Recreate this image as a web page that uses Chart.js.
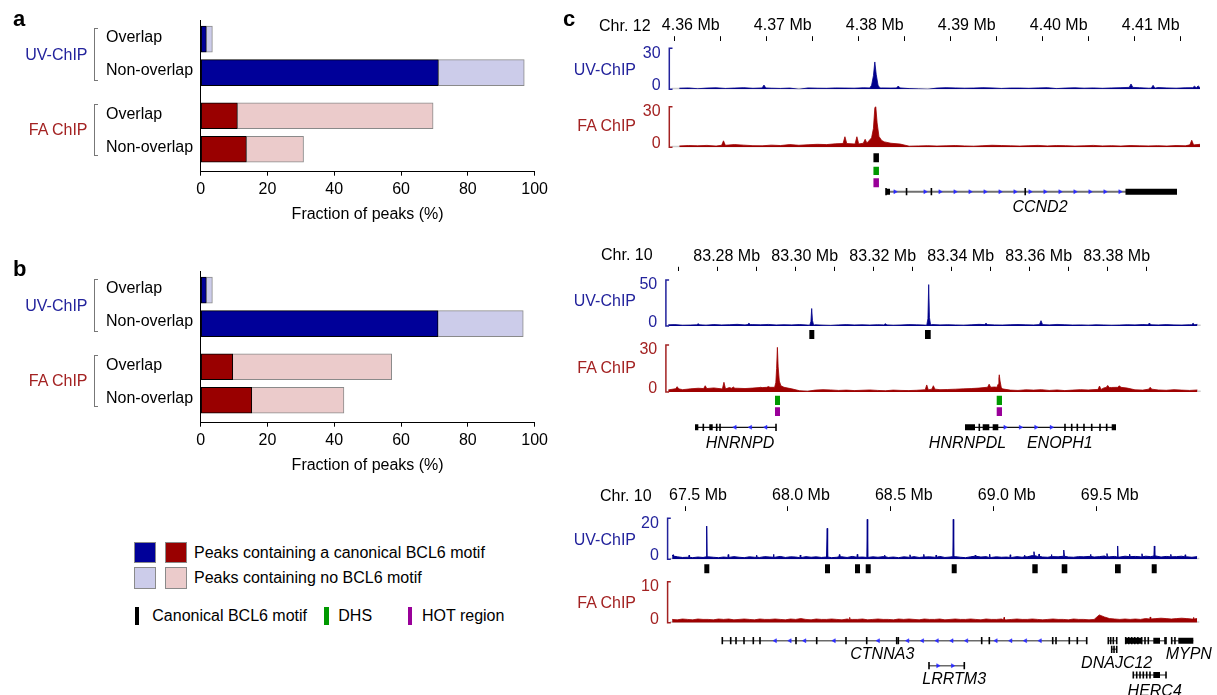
<!DOCTYPE html>
<html><head><meta charset="utf-8">
<script src="https://cdn.jsdelivr.net/npm/chart.js@4.4.1/dist/chart.umd.min.js"></script>
<style>
html,body{margin:0;padding:0;background:#fff;}
body{width:1217px;height:695px;position:relative;overflow:hidden;font-family:'Liberation Sans',Arial,Helvetica,sans-serif;}
canvas{position:absolute;}
.t{position:absolute;line-height:0;white-space:nowrap;font-size:16px;color:#000;}
.box{position:absolute;box-sizing:border-box;}
</style></head><body>
<script>
// ---------------- DATA ----------------
// Panels a / b : fraction of peaks (%)
const barRows = ['Overlap', 'Non-overlap', 'Overlap', 'Non-overlap'];
const motifA   = [1.7, 71.2, 11.0, 13.7];
const noMotifA = [1.8, 25.7, 58.6, 17.1];
const motifB   = [1.7, 71.1, 9.6, 15.3];
const noMotifB = [1.8, 25.5, 47.6, 27.6];
const barTicks = [0, 20, 40, 60, 80, 100];

// Panel c, locus 1 (Chr. 12)
const l1Ticks = [4.355, 4.36, 4.365, 4.37, 4.375, 4.38, 4.385, 4.39, 4.395, 4.40, 4.405, 4.41];
const l1TickLabels = ['', '4.36 Mb', '', '4.37 Mb', '', '4.38 Mb', '', '4.39 Mb', '', '4.40 Mb', '', '4.41 Mb'];
const l1BinStart = 4.355, l1Bin = 0.001;
const uv1Base = [0.8,1.0,0.4,0.9,1.1,0.6,0.9,1.2,0.7,1.0, 0.8,0.6,0.9,0,1.0,0.8,0.7,1.0,0.9,0.8,
  1.1,1.3,1.0,0.9,1.0,0.5,0.3,0,0.9,1.2, 1.0,0.8,0.9,1.2,1.0,0.6,0.9,0.9,0.7,1.0,
  1.2,0.5,0.9,1.1,0.8,1.0,0.7,1.0,1.2,1.4, 1.2,0.8,1.3,1.0,0.8,1.1,1.2,1.3];
const uv1Spikes = [[4.3647,3.1],[4.3793,2.4],[4.4046,3.9],[4.4070,2.9],[4.4115,2.2],[4.4119,2.5]];
const uv1Peak = [[4.3762,1],[4.3764,3],[4.3766,10],[4.37675,20],[4.3769,11],[4.3771,3],[4.3773,1]];
const fa1Base = [1.0,1.3,1.1,1.4,0.9, 1.5, 2.0,1.6,1.2,1.1,1.6,1.3,2.0,1.5,1.9,2.2,2.0,2.6, 2.8,2.5,3.0, 3.5, 3.8,3.0,2.4,
  0.8,1.0,1.2,0.9,1.1,1.3,1.0,0.8,1.2,1.5,1.3,1.1,0.9,1.2,1.4,1.0,1.3,1.2,0.9,1.1,1.4,1.0,1.2,0.9,1.3,1.1,1.0,1.2,0.9,1.3,1.1,
  1.8,2.5];
const fa1Spikes = [[4.3603,4.8],[4.3735,7.8],[4.3748,7.8],[4.3757,5.9],[4.4112,5.2]];
const fa1Peak = [[4.3760,4],[4.3764,7],[4.3766,14],[4.37675,29],[4.37685,30.5],[4.3770,18],[4.3772,8],[4.3775,5],[4.3778,4]];
const l1Motifs = [[4.3766, 4.3772]];
const l1DHS = [[4.3766, 4.3772]];
const l1HOT = [[4.3766, 4.3772]];
const l1Genes = [
  {name:'CCND2', start:4.37797, end:4.4096, strand:1, ticks:[4.37797,4.3802,4.3829,4.3931], blocks:[[4.37797,4.3784],[4.4040,4.4096]]}
];

// Panel c, locus 2 (Chr. 10)
const l2Ticks = [83.26, 83.27, 83.28, 83.29, 83.30, 83.31, 83.32, 83.33, 83.34, 83.35, 83.36, 83.37, 83.38];
const l2TickLabels = ['', '', '83.28 Mb', '', '83.30 Mb', '', '83.32 Mb', '', '83.34 Mb', '', '83.36 Mb', '', '83.38 Mb'];
const l2BinStart = 83.256, l2Bin = 0.002;
const uv2Base = [1.2,1.5,0.8,1.0,1.3,0.9,1.6,1.1,1.4,1.8, 1.2,1.5,1.3,1.7,1.1,1.4,1.2,1.6,1.0,1.3,
  0.9,0.6,1.2,1.5,1.1,1.3,1.0,1.4,1.2,0.8, 1.1,1.5,1.3,1.0,1.6,1.2,1.4,1.1,0.9,1.3,
  1.8,1.5,1.2,1.0,1.4,1.6,1.3,1.1,1.5,1.2, 1.7,1.4,1.0,1.2,0.9,1.3,1.1,0.8,1.0,1.4,
  1.2,1.6,1.3,1.1,1.5,1.2,1.0,1.4,1.8];
const uv2Spikes = [[83.2650,2.5],[83.2780,3.0],[83.3130,2.5],[83.3388,2.9],[83.3529,5.8],[83.3807,3.2],[83.3919,3.0]];
const uv2PeakA = [[83.2936,0.8],[83.2939,5],[83.2941,19],[83.2943,6],[83.2946,0.8]];
const uv2PeakB = [[83.3236,0.8],[83.3239,8],[83.3241,45],[83.3243,9],[83.3246,1]];
const fa2Base = [1.2,2.0, 1.5,2.0,2.4,2.2,2.6,2.0,2.8,2.4,2.2, 2.5,2.8,3.0,3.4, 3.0,2.0,
  0.8,0.5,1.2,1.5,1.3,1.0,1.2,0.9,1.1,1.3,1.0,0.8,1.2,1.0,0.9,1.1,1.4,
  1.8,1.5,1.6,1.8,2.0,2.2,2.5, 3.0,3.2,2.0,
  1.2,1.0,1.4,1.2,1.5,1.0,1.3,0.9,1.2,1.5,1.3,1.6,
  2.6,2.9,3.0,2.5, 1.4,1.2,1.8,1.3,1.1,1.5,1.2,1.0,1.3];
const fa2Spikes = [[83.2596,3.4],[83.2668,4.0],[83.2716,6.2],[83.2740,3.2],[83.2810,3.0],[83.2830,3.5],[83.3236,4.5],
  [83.3253,4.0],[83.3396,5.0],[83.3679,3.8],[83.3700,4.2],[83.3730,4.0],[83.3809,3.0]];
const fa2PeakA = [[83.2846,3],[83.2849,6],[83.2851,15],[83.2853,28.5],[83.2855,16],[83.2858,7],[83.2862,4]];
const fa2PeakB = [[83.3416,3],[83.3419,5],[83.3421,9],[83.3422,11],[83.3424,7],[83.3427,3]];
const l2Motifs = [[83.29349,83.29477],[83.32315,83.32462]];
const l2DHS = [[83.28469,83.28597],[83.34154,83.34290]];
const l2HOT = [[83.28469,83.28597],[83.34154,83.34290]];
const l2Genes = [
  {name:'HNRNPD', start:83.26418, end:83.28495, strand:-1, ticks:[83.26631,83.26974,83.27059,83.28495], blocks:[[83.26418,83.26503],[83.26785,83.26872]]},
  {name:'HNRNPDL', start:83.33341, end:83.37213, strand:1, ticks:[83.33708,83.35905,83.36077,83.36221,83.36392,83.36590,83.36803,83.36974], blocks:[[83.33341,83.33597],[83.33795,83.33964],[83.34051,83.34195],[83.37103,83.37213]]}
];

// Panel c, locus 3 (Chr. 10)
const l3Ticks = [67.5, 68.0, 68.5, 69.0, 69.5];
const l3TickLabels = ['67.5 Mb', '68.0 Mb', '68.5 Mb', '69.0 Mb', '69.5 Mb'];
const l3BinStart = 67.425, l3Bin = 0.025;
const uv3Base = [1.6,1.2,0.9,1.0,0.8,1.1,0.9,1.2,1.0,0.8, 1.1,0.9,1.3,1.0,0.8,1.2,1.0,0.9,1.3,1.1,
  1.0,1.4,0.9,1.2,1.1,0.8,1.3,1.0,1.2,0.9, 1.1,0.8,1.0,1.2,0.9,1.4,1.0,1.1,0.9,1.2,
  1.0,1.3,0.9,1.1,0.8,1.2,1.0,1.3,0.9,1.1, 1.2,1.0,1.4,0.9,1.1,1.3,1.0,0.8,1.2,1.5,
  1.1,1.3,0.9,1.2,1.0,1.1,0.9,1.3,1.0,1.2, 1.8,1.4,1.1,1.0,1.3,1.2,1.5,1.1,1.0,1.3,
  1.2,1.4,1.1,1.3,1.6,1.2,1.4,1.1,1.5,1.3, 1.4,1.2,1.5,1.3,1.6,1.1,1.4,1.2,1.3,1.5, 1.2,1.0,1.3];
const uv3Spikes = [[67.6054,16.2],[68.1909,15.1],[68.3370,2.4],[68.3855,19.5],[68.8033,19.5],[69.1953,3.7],[69.3410,4.5],
  [69.6018,6.5],[69.7800,6.5],
  [67.4420,2.2],[67.5200,2.0],[67.7100,2.3],[67.8480,2.0],[67.9300,2.4],[68.0600,2.1],[68.2500,2.3],[68.4700,2.0],
  [68.5930,2.2],[68.6600,2.4],[68.7200,2.1],[68.9100,2.0],[68.9800,2.5],[69.0800,2.2],[69.1500,2.0],[69.2200,2.6],
  [69.2800,2.3],[69.4700,2.4],[69.5500,2.8],[69.6600,2.5],[69.7200,2.7],[69.8600,2.4],[69.9300,2.2]];
const fa3Base = [0.8,0.7,0.9,0.8,0.7,0.9,0.8,0.8,0.7,0.9, 0.8,0.9,0.7,0.8,0.9,0.8,0.7,0.9,0.8,0.8,
  0.9,0.8,0.7,0.9,0.8,1.0,0.8,0.7,0.9,0.8, 0.8,0.9,0.8,0.7,0.9,0.8,0.8,0.9,0.7,0.8,
  0.9,0.8,0.8,0.7,0.9,0.8,0.9,0.8,0.7,0.9, 0.8,0.8,0.9,0.7,0.8,0.9,0.8,0.8,0.9,0.8,
  0.7,0.9,0.8,0.8,0.9,0.7,0.8,0.9,0.8,0.8, 0.9,0.8,0.7,0.8,0.9,0.8,0.8,0.7,0.9,0.8,
  0.8,0.7,0.8,1.9,1.4,1.0,0.9,0.8,0.9,0.8, 0.9,0.8,1.0,0.9,1.0,1.1,1.0,0.9,1.0,1.1, 1.0,0.9,1.0];
const fa3Spikes = [[68.3000,1.3],[69.0500,1.3],[69.7600,1.4],[69.9700,1.3]];
const l3Motifs = [[67.5938,67.6181],[68.1801,68.2044],[68.3258,68.3501],[68.3778,68.4021],[68.7956,68.8199],
  [69.1872,69.2134],[69.3300,69.3572],[69.5889,69.6166],[69.7672,69.7915]];
const l3Genes = [
  {name:'CTNNA3', start:67.6812, end:69.4514, strand:-1, ticks:[67.6812,67.7220,67.7478,67.7866,67.8318,67.8643,68.0392,68.1398,
    68.2821,68.3827,68.5284,68.5362,68.9413,68.9783,69.2863,69.3023,69.3669,69.4058,69.4514], blocks:[]},
  {name:'LRRTM3', start:68.6853, end:68.8568, strand:1, ticks:[68.6853,68.8568], blocks:[]},
  {name:'DNAJC12a', start:69.5564, end:69.5972, strand:0, ticks:[69.5564,69.5680,69.5807,69.5972], blocks:[]},
  {name:'DNAJC12b', start:69.5729, end:69.5972, strand:0, ticks:[69.5729,69.5841,69.5972], blocks:[]},
  {name:'HERC4a', start:69.6409, end:69.8367, strand:0, ticks:[69.6409,69.6555,69.6701,69.6847,69.7000,69.7186,69.7346,69.7507,69.8318,69.8367], blocks:[[69.6409,69.7186],[69.7750,69.8075]]},
  {name:'MYPN', start:69.8643, end:69.9693, strand:0, ticks:[69.8643,69.8800], blocks:[[69.8964,69.9693]]},
  {name:'HERC4b', start:69.6778, end:69.8367, strand:0, ticks:[69.6778,69.6943,69.7104,69.7264,69.7429,69.7589,69.8367], blocks:[[69.7750,69.8075]]}
];

// ---------------- LAYOUT / STYLE ----------------
const UVC = '#23239c', FAC = '#a32222', UVFILL = '#00008c', FAFILL = '#9e0000';
const ROWPOS = [0, 1, 2.29, 3.29];   // vertical slot of each bar row (layout)
const L1 = {left:671.7, right:1200, min:4.35467, max:4.4121, tickBottom:40.7, labelOffset:-30, chev:0.00163, hw:0.0002,
  uv:{top:48.3,bottom:89.3,max:30}, fa:{top:106.7,bottom:147.3,max:30}, ann:{top:150,bottom:200},
  boxRows:{motif:[157.8,9], dhs:[170.85,8.3], hot:[182.8,9]}, geneRows:{CCND2:191.7}, lineColor:'#707070', lineW:2};
const L2 = {left:668.3, right:1200.7, min:83.25733, max:83.39385, tickBottom:271.3, labelOffset:-30, chev:0.00395, hw:0.0004,
  uv:{top:280,bottom:326,max:50}, fa:{top:345,bottom:392,max:30}, ann:{top:328,bottom:436},
  boxRows:{motif:[334.5,9], dhs:[400.35,9.3], hot:[411.65,8.7]}, geneRows:{HNRNPD:427.3, HNRNPDL:427.3}, lineColor:'#111', lineW:1.3};
const L3 = {left:670, right:1199.3, min:67.4271, max:69.9984, tickBottom:510.7, labelOffset:13, chev:0.0715, hw:0.002,
  uv:{top:518.3,bottom:559.3,max:20}, fa:{top:581.7,bottom:622.7,max:10}, ann:{top:562,bottom:682},
  boxRows:{motif:[568.8,9]}, geneRows:{CTNNA3:640.7, LRRTM3:665.7, DNAJC12a:640.7, DNAJC12b:649.3, HERC4a:640.7, MYPN:640.7, HERC4b:675},
  lineColor:'#6a6a6a', lineW:1.6};

Chart.defaults.font.family = "'Liberation Sans', Arial, Helvetica, sans-serif";
Chart.defaults.font.size = 16;
Chart.defaults.color = '#000';

function makeCanvas(x, y, w, h) {
  const c = document.createElement('canvas');
  c.width = w; c.height = h;
  c.style.left = x + 'px'; c.style.top = y + 'px';
  c.style.width = w + 'px'; c.style.height = h + 'px';
  document.body.appendChild(c);
  return c;
}
function txt(s, x, y, o = {}) {
  const d = document.createElement('div');
  d.className = 't'; d.textContent = s;
  d.style.left = x + 'px'; d.style.top = y + 'px';
  d.style.fontSize = (o.size || 16) + 'px';
  d.style.color = o.color || '#000';
  if (o.bold) d.style.fontWeight = 'bold';
  if (o.italic) d.style.fontStyle = 'italic';
  if (o.align === 'center') d.style.transform = 'translateX(-50%)';
  else if (o.align === 'right') d.style.transform = 'translateX(-100%)';
  document.body.appendChild(d);
}
function rect(x, y, w, h, bg, border) {
  const d = document.createElement('div');
  d.className = 'box';
  d.style.left = x + 'px'; d.style.top = y + 'px'; d.style.width = w + 'px'; d.style.height = h + 'px';
  d.style.background = bg;
  if (border) d.style.border = border;
  document.body.appendChild(d);
}
function bracket(x, y1, y2) {
  const d = document.createElement('div');
  d.className = 'box';
  d.style.left = x + 'px'; d.style.top = y1 + 'px'; d.style.width = '4px'; d.style.height = (y2 - y1) + 'px';
  d.style.border = '1.5px solid #777'; d.style.borderRight = 'none';
  document.body.appendChild(d);
}
const base = {responsive:false, animation:false, devicePixelRatio:1, events:[],
  plugins:{legend:{display:false}, tooltip:{enabled:false}}};

// ---------------- PANELS a / b ----------------
function barPanel(top, motif, noMotif) {
  const cv = makeCanvas(0, top, 560, 235);
  const dark = ['#000099', '#000099', '#990000', '#990000'];
  const light = ['#ccccea', '#ccccea', '#ebcbcb', '#ebcbcb'];
  new Chart(cv, {
    type: 'bar',
    data: {datasets: [
      {data: motif.map((v, i) => ({x: v, y: -ROWPOS[i]})), backgroundColor: dark, borderColor: '#000',
       borderWidth: 1, borderSkipped: false, barThickness: 26},
      {data: noMotif.map((v, i) => ({x: v, y: -ROWPOS[i]})), backgroundColor: light, borderColor: '#8a8a8a',
       borderWidth: 1, borderSkipped: 'start', barThickness: 26}
    ]},
    options: Object.assign({}, base, {
      indexAxis: 'y',
      layout: {padding: {left: 106, top: 20, right: 25.4, bottom: 6.4}, autoPadding: false},
      scales: {
        x: {type: 'linear', min: 0, max: 100, stacked: true, bounds: 'data', offset: false, grace: 0,
          afterBuildTicks: s => { s.ticks = barTicks.map(v => ({value: v})); },
          grid: {display: true, drawOnChartArea: false, drawTicks: true, tickLength: 4, color: '#000', lineWidth: 1},
          border: {display: true, color: '#000', width: 1},
          ticks: {padding: 4, color: '#000', font: {size: 16}, maxRotation: 0, autoSkip: false},
          title: {display: true, text: 'Fraction of peaks (%)', color: '#000', font: {size: 16}, padding: {top: 2.5, bottom: 4}}},
        y: {type: 'linear', min: -3.96, max: 0.57, stacked: true, bounds: 'data', offset: false, grace: 0,
          afterBuildTicks: s => { s.ticks = ROWPOS.map(v => ({value: -v})); },
          afterFit: s => { s.width = 94.7; },
          grid: {display: false, offset: false}, border: {display: true, color: '#000', width: 1},
          ticks: {crossAlign: 'far', color: '#000', font: {size: 16}, labelOffset: -1.5, autoSkip: false,
            callback: (v, i) => barRows[i]}}
      }
    })
  });
}
barPanel(0, motifA, noMotifA);
barPanel(251, motifB, noMotifB);

txt('a', 13, 18.8, {size: 22, bold: true});
txt('b', 13, 268.8, {size: 22, bold: true});
[[0, 'a'], [251, 'b']].forEach(([dy]) => {
  txt('UV-ChIP', 87.5, 55 + dy, {align: 'right', color: UVC});
  txt('FA ChIP', 87.5, 130 + dy, {align: 'right', color: FAC});
  bracket(93.6, 28.3 + dy, 81 + dy);
  bracket(93.6, 104 + dy, 155.7 + dy);
});

// legend
rect(134, 541.7, 22, 21.6, '#000099', '1px solid #8a8a8a');
rect(165, 541.7, 22, 21.6, '#990000', '1px solid #8a8a8a');
rect(134, 567.3, 22, 21.6, '#ccccea', '1px solid #8a8a8a');
rect(165, 567.3, 22, 21.6, '#ebcbcb', '1px solid #8a8a8a');
txt('Peaks containing a canonical BCL6 motif', 194, 552.7);
txt('Peaks containing no BCL6 motif', 194, 578.3);
rect(135, 607.3, 3.6, 17.7, '#000');
txt('Canonical BCL6 motif', 152.3, 616);
rect(324, 607.3, 4.5, 17.7, '#009900');
txt('DHS', 338.3, 616);
rect(407.5, 607.3, 4.5, 17.7, '#990099');
txt('HOT region', 422, 616);

// ---------------- PANEL c ----------------
const trackFrame = {
  id: 'trackFrame',
  beforeDatasetsDraw(chart, args, opts) {
    const {ctx, chartArea: a} = chart;
    ctx.save(); ctx.strokeStyle = '#cdcdcd'; ctx.lineWidth = 1.5;
    ctx.beginPath(); ctx.moveTo(a.left, a.bottom - 0.75); ctx.lineTo(a.right, a.bottom - 0.75); ctx.stroke();
    ctx.restore();
  },
  afterDraw(chart, args, opts) {
    const {ctx, chartArea: a} = chart;
    const ys = chart.scales.y;
    const bx = a.left - 2.4;
    ctx.save();
    ctx.strokeStyle = opts.color; ctx.lineWidth = 1.5;
    ctx.beginPath();
    ctx.moveTo(bx + 3.2, ys.getPixelForValue(ys.max)); ctx.lineTo(bx, ys.getPixelForValue(ys.max));
    ctx.lineTo(bx, ys.getPixelForValue(0)); ctx.lineTo(bx + 3.2, ys.getPixelForValue(0));
    ctx.stroke();
    ctx.fillStyle = opts.color; ctx.font = "16px 'Liberation Sans', Arial, sans-serif";
    ctx.textAlign = 'right'; ctx.textBaseline = 'middle';
    ctx.fillText(String(ys.max), bx - 8.7, ys.getPixelForValue(ys.max) + 5);
    ctx.fillText('0', bx - 8.7, ys.getPixelForValue(0) - 3.5);
    ctx.restore();
  }
};

function buildTrack(start, bin, baseVals, spikes, hw, peaks) {
  const pts = [], spans = [];
  spikes.forEach(([c, h]) => {
    const k = Math.min(baseVals.length - 1, Math.max(0, Math.floor((c - start) / bin)));
    const f = Math.min(baseVals[k], h);
    spans.push([c - hw, c + hw]);
    pts.push({x: c - hw, y: f}, {x: c, y: h}, {x: c + hw, y: f});
  });
  peaks.forEach(p => {
    spans.push([p[0][0], p[p.length - 1][0]]);
    p.forEach(([x, y]) => pts.push({x, y}));
  });
  baseVals.forEach((v, i) => {
    const x = start + (i + 0.5) * bin;
    if (!spans.some(([a, b]) => x >= a && x <= b)) pts.push({x, y: v});
  });
  pts.sort((a, b) => a.x - b.x);
  return pts;
}

function axisChart(L, ticks, labels) {
  const top = Math.round(L.tickBottom) - 30;
  const cv = makeCanvas(560, top, 657, 32);
  const xh = L.tickBottom - top;
  new Chart(cv, {
    type: 'line', data: {datasets: []},
    options: Object.assign({}, base, {
      layout: {padding: {left: L.left - 560, right: 1217 - L.right, top: 0, bottom: 0}, autoPadding: false},
      scales: {
        x: {type: 'linear', position: 'top', min: L.min, max: L.max, bounds: 'data', offset: false,
          afterBuildTicks: s => { s.ticks = ticks.map(v => ({value: v})); },
          afterFit: s => { s.height = xh; },
          grid: {display: true, drawOnChartArea: false, drawTicks: true, tickLength: 4.5, color: '#000', lineWidth: 1},
          border: {display: false},
          ticks: {autoSkip: false, maxRotation: 0, minRotation: 0, padding: 1, labelOffset: L.labelOffset,
            color: '#000', font: {size: 16}, callback: (v, i) => labels[i]}},
        y: {display: false, min: 0, max: 1}
      }
    })
  });
}

function trackChart(L, T, pts, fill, color, bw) {
  const top = Math.floor(T.top) - 12;
  const h = Math.ceil(T.bottom - T.top) + 24;
  const cv = makeCanvas(560, top, 657, h);
  new Chart(cv, {
    type: 'line',
    data: {datasets: [{data: pts, borderColor: fill, backgroundColor: fill, borderWidth: bw, fill: 'origin',
      pointRadius: 0, tension: 0}]},
    options: Object.assign({}, base, {
      layout: {padding: {left: L.left - 560, right: 1217 - L.right, top: T.top - top, bottom: top + h - T.bottom}, autoPadding: false},
      scales: {x: {type: 'linear', display: false, min: L.min, max: L.max, bounds: 'data', offset: false},
               y: {type: 'linear', display: false, min: 0, max: T.max, bounds: 'data', offset: false}},
      plugins: {legend: {display: false}, tooltip: {enabled: false}, trackFrame: {color: color}}
    }),
    plugins: [trackFrame]
  });
}

function annotChart(L, boxSets, genes) {
  const A = L.ann;
  const M = 8;  // canvas margin above/below the annotation area
  const cv = makeCanvas(560, A.top - M, 657, A.bottom - A.top + 2 * M);
  const ds = [];
  // rows are page-y positions; plotted as negative values so that larger y lies lower
  boxSets.forEach(([ranges, key, color]) => {
    const [row, hgt] = L.boxRows[key];
    ds.push({data: ranges.flatMap(([s, e]) => [{x: s, y: -row}, {x: e, y: -row}, {x: e, y: null}]),
      borderColor: color, borderWidth: hgt, borderCapStyle: 'butt', pointRadius: 0, spanGaps: false, fill: false, order: 1});
  });
  genes.forEach(g => {
    const row = -L.geneRows[g.name];
    ds.push({data: [{x: g.start, y: row}, {x: g.end, y: row}], borderColor: L.lineColor, borderWidth: L.lineW,
      pointRadius: 0, fill: false, order: 4});
    if (g.blocks.length) ds.push({data: g.blocks.flatMap(([s, e]) => [{x: s, y: row}, {x: e, y: row}, {x: e, y: null}]),
      borderColor: '#000', borderWidth: 6, borderCapStyle: 'butt', pointRadius: 0, spanGaps: false, fill: false, order: 1});
    ds.push({data: g.ticks.map(t => ({x: t, y: row})), showLine: false, pointStyle: 'line', pointRotation: 90,
      pointRadius: 3.6, pointBorderWidth: 1.6, pointBorderColor: '#000', pointBackgroundColor: '#000', order: 0});
    if (g.strand) {
      const chev = [];
      const near = L.chev * 0.3;
      for (let x = g.start + L.chev * 0.6; x < g.end - L.chev * 0.3; x += L.chev) {
        if (g.ticks.some(t => Math.abs(t - x) < near)) continue;
        if (g.blocks.some(([s, e]) => x > s - near && x < e + near)) continue;
        chev.push({x, y: row});
      }
      ds.push({data: chev, showLine: false, pointStyle: 'triangle', pointRotation: g.strand > 0 ? 90 : -90,
        pointRadius: 2.3, pointBorderWidth: 0.5, pointBorderColor: '#2b2bff', pointBackgroundColor: '#2b2bff', order: 2});
    }
  });
  new Chart(cv, {
    type: 'line', data: {datasets: ds},
    options: Object.assign({}, base, {
      layout: {padding: {left: L.left - 560, right: 1217 - L.right, top: M, bottom: M}, autoPadding: false},
      scales: {x: {type: 'linear', display: false, min: L.min, max: L.max, bounds: 'data', offset: false},
               y: {type: 'linear', display: false, min: -A.bottom, max: -A.top, bounds: 'data', offset: false, grace: 0}}
    })
  });
}

// locus 1
axisChart(L1, l1Ticks, l1TickLabels);
trackChart(L1, L1.uv, buildTrack(l1BinStart, l1Bin, uv1Base, uv1Spikes, L1.hw, [uv1Peak]), UVFILL, UVC, 0.8);
trackChart(L1, L1.fa, buildTrack(l1BinStart, l1Bin, fa1Base, fa1Spikes, L1.hw, [fa1Peak]), FAFILL, FAC, 0.8);
annotChart(L1, [[l1Motifs, 'motif', '#000'], [l1DHS, 'dhs', '#009900'], [l1HOT, 'hot', '#990099']], l1Genes);
// locus 2
axisChart(L2, l2Ticks, l2TickLabels);
trackChart(L2, L2.uv, buildTrack(l2BinStart, l2Bin, uv2Base, uv2Spikes, L2.hw, [uv2PeakA, uv2PeakB]), UVFILL, UVC, 0.8);
trackChart(L2, L2.fa, buildTrack(l2BinStart, l2Bin, fa2Base, fa2Spikes, L2.hw, [fa2PeakA, fa2PeakB]), FAFILL, FAC, 0.8);
annotChart(L2, [[l2Motifs, 'motif', '#000'], [l2DHS, 'dhs', '#009900'], [l2HOT, 'hot', '#990099']], l2Genes);
// locus 3
axisChart(L3, l3Ticks, l3TickLabels);
trackChart(L3, L3.uv, buildTrack(l3BinStart, l3Bin, uv3Base, uv3Spikes, L3.hw, []), UVFILL, UVC, 1);
trackChart(L3, L3.fa, buildTrack(l3BinStart, l3Bin, fa3Base, fa3Spikes, L3.hw, []), FAFILL, FAC, 0.8);
annotChart(L3, [[l3Motifs, 'motif', '#000']], l3Genes);

// panel c texts
txt('c', 563, 18.8, {size: 22, bold: true});
txt('Chr. 12', 599, 26);
txt('Chr. 10', 601, 255);
txt('Chr. 10', 600, 496);
[[70, 126], [301, 368.3], [540, 602.7]].forEach(([u, f]) => {
  txt('UV-ChIP', 636, u, {align: 'right', color: UVC});
  txt('FA ChIP', 636, f, {align: 'right', color: FAC});
});
txt('CCND2', 1040, 207, {align: 'center', italic: true});
txt('HNRNPD', 740, 443.3, {align: 'center', italic: true});
txt('HNRNPDL', 967.5, 443.3, {align: 'center', italic: true});
txt('ENOPH1', 1059.8, 443.3, {align: 'center', italic: true});
txt('CTNNA3', 882.3, 654.3, {align: 'center', italic: true});
txt('LRRTM3', 954.2, 679.3, {align: 'center', italic: true});
txt('DNAJC12', 1116.7, 663.3, {align: 'center', italic: true});
txt('MYPN', 1188.8, 654.3, {align: 'center', italic: true});
txt('HERC4', 1154.7, 690.7, {align: 'center', italic: true});
</script>
</body></html>
